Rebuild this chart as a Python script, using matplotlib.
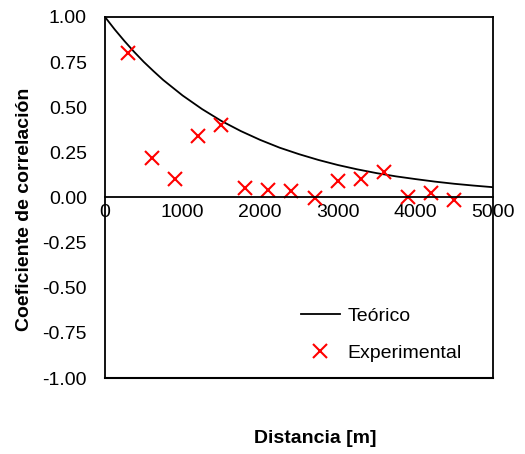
import matplotlib
matplotlib.use("Agg")
from matplotlib import pyplot

pyplot.rcParams['font.family'] = ['Liberation Sans', 'DejaVu Sans']

# Experimental points (distance in m, correlation coefficient)
dist_exp = [300, 600, 900, 1200, 1500, 1800, 2100, 2400, 2700, 3000, 3300, 3600, 3900, 4200, 4500]
corr_exp = [0.80, 0.22, 0.10, 0.34, 0.40, 0.055, 0.04, 0.035, -0.005, 0.09, 0.10, 0.14, 0.0, 0.025, -0.015]

# Theoretical curve, values
dist_teo = [0, 125, 250, 375, 500, 625, 750, 1000, 1250, 1500, 1750, 2000, 2250, 2500,
            2750, 3000, 3250, 3500, 3750, 4000, 4250, 4500, 4750, 5000]
corr_teo = [1.00, 0.931, 0.867, 0.807, 0.751, 0.700, 0.651, 0.565, 0.490, 0.424, 0.368, 0.319, 0.276, 0.240,
            0.208, 0.180, 0.156, 0.135, 0.117, 0.102, 0.088, 0.076, 0.066, 0.057]

font_size = 14

fig = pyplot.figure(figsize=(5.25, 4.54), dpi=100)
ax = fig.add_axes([0.2, 0.1674, 0.739, 0.7952])

ax.plot(dist_teo, corr_teo, color='k', lw=1.3, label='Teórico')
ax.plot(dist_exp, corr_exp, ls='none', marker='x', ms=10, mew=1.5, color='#ff0000', label='Experimental')

ax.set_xlim(0, 5000)
ax.set_ylim(-1, 1)
ax.set_xticks([0, 1000, 2000, 3000, 4000, 5000])
ax.set_yticks([-1, -0.75, -0.5, -0.25, 0, 0.25, 0.5, 0.75, 1])
ax.set_yticklabels(['%.2f' % v for v in ax.get_yticks()])

ax.spines['bottom'].set_position(('data', 0))
for s in ax.spines.values():
    s.set_linewidth(1.3)
ax.axhline(-1, color='k', lw=1.5, clip_on=False)
ax.tick_params(axis='both', length=0, labelsize=font_size)
ax.tick_params(axis='x', pad=5)
ax.tick_params(axis='y', pad=13)

ax.set_ylabel('Coeficiente de correlación', fontsize=font_size, fontweight='bold')
ax.yaxis.set_label_coords(-0.186, 0.468)
fig.text(0.6, 0.035, 'Distancia [m]', ha='center', va='center', fontsize=font_size, fontweight='bold')

ax.legend(loc='upper left', bbox_to_anchor=(0.48, 0.222), frameon=False, fontsize=font_size,
          borderpad=0, handlelength=2.0, handletextpad=0.4, labelspacing=1.0)

pyplot.savefig('out.png', dpi=100)
pyplot.close()
